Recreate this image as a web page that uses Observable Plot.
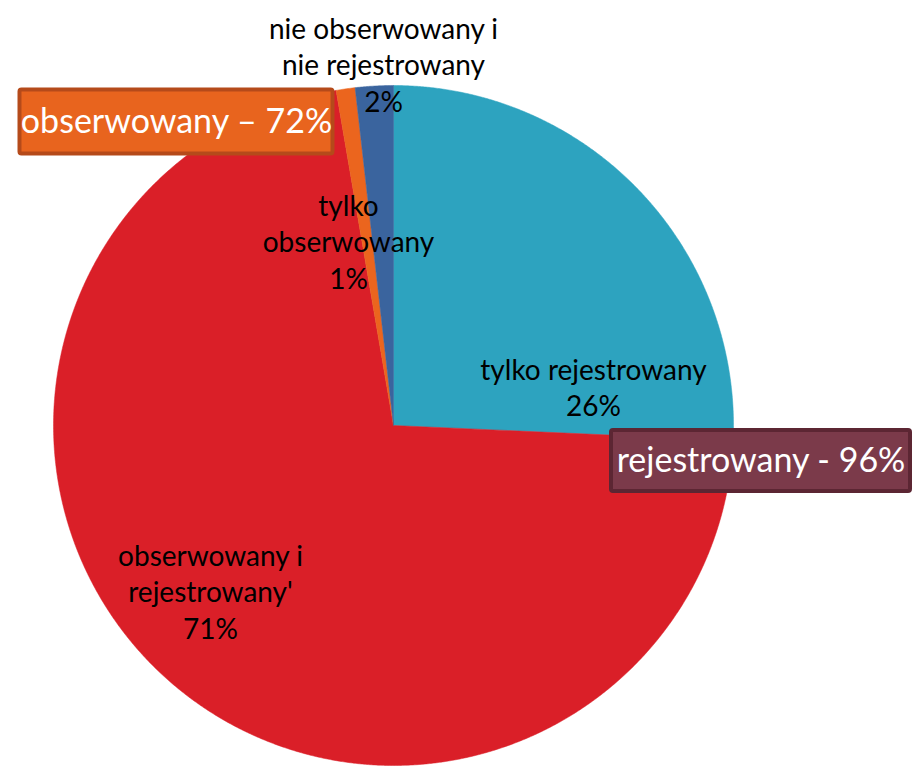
<!DOCTYPE html>
<html><head><meta charset="utf-8">
<script src="https://cdn.jsdelivr.net/npm/d3@7"></script>
<script src="https://cdn.jsdelivr.net/npm/@observablehq/plot@0.6"></script>
<style>body{margin:0;background:#fff}</style>
</head><body><div id="chart"></div>
<script>
// ---- data ----
const categories = ["tylko rejestrowany", "obserwowany i rejestrowany'", "tylko obserwowany", "nie obserwowany i nie rejestrowany"];
const values = [25.7, 71.6, 0.9, 1.8];
const labels = ["tylko rejestrowany\n26%", "obserwowany i\nrejestrowany'\n71%", "tylko\nobserwowany\n1%", "nie obserwowany i\nnie rejestrowany\n2%"];
const colors = ["#2DA3BF", "#DA1F28", "#EB651E", "#3A649E"];
const summaryLabels = ["obserwowany – 72%", "rejestrowany - 96%"];
const summaryFill = ["#E8641E", "#7B3A4A"];
const summaryStroke = ["#B54A1A", "#5C2633"];

// ---- layout (pixels) ----
const W = 923, H = 772, cx = 393, cy = 425, R = 340;
const labelPos = [[593, 386], [210, 590], [348, 240], [383, 63]];
const boxPos = [[19.5, 89.5, 332.5, 153.5], [611, 430, 910, 491]];

const total = d3.sum(values);
const slicePts = [];
let acc = 0;
values.forEach((v, i) => {
  const a0 = acc / total * 2 * Math.PI;
  acc += v;
  const a1 = acc / total * 2 * Math.PI;
  slicePts.push({k: i, x: cx, y: cy, c: colors[i]});
  const n = Math.max(2, Math.ceil((a1 - a0) / (Math.PI / 720)));
  for (let j = 0; j <= n; j++) {
    const a = a0 + (a1 - a0) * j / n;
    slicePts.push({k: i, x: cx + R * Math.sin(a), y: cy - R * Math.cos(a), c: colors[i]});
  }
  slicePts.push({k: i, x: cx, y: cy, c: colors[i]});
});

const labelData = labels.map((t, i) => ({t, x: labelPos[i][0], y: labelPos[i][1]}));
const boxData = summaryLabels.map((t, i) => ({
  t, x1: boxPos[i][0], y1: boxPos[i][1], x2: boxPos[i][2], y2: boxPos[i][3],
  fill: summaryFill[i], stroke: summaryStroke[i]
}));

const chart = Plot.plot({
  width: W, height: H, margin: 0,
  x: {domain: [0, W], range: [0, W], axis: null},
  y: {domain: [0, H], range: [0, H], axis: null},
  color: {type: "identity"},
  style: {fontFamily: "Lato, sans-serif", background: "#fff"},
  marks: [
    Plot.line(slicePts, {x: "x", y: "y", z: "k", fill: "c", stroke: "c", strokeWidth: 0.5, curve: "linear"}),
    Plot.text(labelData, {x: "x", y: "y", text: "t", fontSize: 28, lineHeight: 1.3, fill: "#000", lineAnchor: "middle"}),
    Plot.rect(boxData, {x1: "x1", y1: "y1", x2: "x2", y2: "y2", fill: "fill", stroke: "stroke", strokeWidth: 4, rx: 2}),
    Plot.text(boxData, {x: d => (d.x1 + d.x2) / 2, y: d => (d.y1 + d.y2) / 2, text: "t", fontSize: 34, fill: "#fff", lineAnchor: "middle"})
  ]
});
document.getElementById("chart").appendChild(chart);
</script>
</body></html>
